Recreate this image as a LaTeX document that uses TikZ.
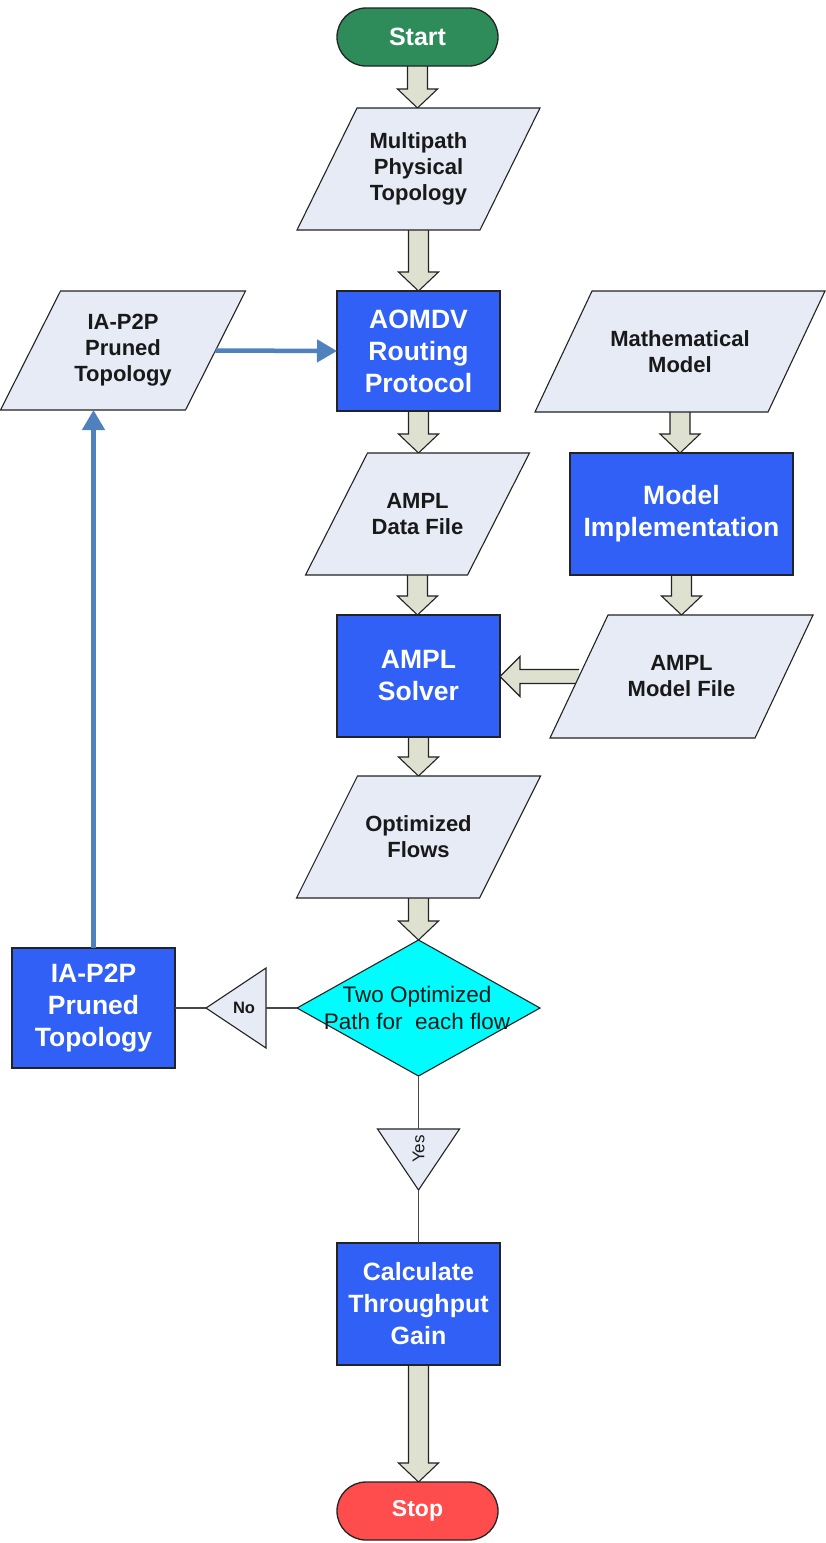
\documentclass[tikz,border=0pt]{standalone}
\usepackage{fontspec}
\setmainfont{Liberation Sans}
\usetikzlibrary{shapes.geometric,arrows.meta,calc,backgrounds}

\definecolor{startgreen}{RGB}{46,139,90}
\definecolor{procblue}{RGB}{48,96,245}
\definecolor{datafill}{RGB}{230,235,246}
\definecolor{arrowfill}{RGB}{222,225,208}
\definecolor{decfill}{RGB}{0,252,252}
\definecolor{stopred}{RGB}{255,77,77}
\definecolor{linkblue}{RGB}{79,129,189}
\definecolor{edge}{RGB}{35,35,35}
\definecolor{linkgray}{RGB}{70,70,70}
\definecolor{darktext}{RGB}{25,25,25}

% hollow block arrow pointing down, from #1 to #2
\newcommand\downblock[2]{%
  \draw[blockarrow] let \p1=(#1), \p2=(#2) in
    (\x1-10pt,\y1) -- (\x1-10pt,\y2+19pt) -- (\x1-20pt,\y2+19pt) -- (\x1,\y2)
    -- (\x1+20pt,\y2+19pt) -- (\x1+10pt,\y2+19pt) -- (\x1+10pt,\y1);}
% hollow block arrow pointing left, from #1 to #2
\newcommand\leftblock[2]{%
  \draw[blockarrow] let \p1=(#1), \p2=(#2) in
    (\x1,\y1+7pt) -- (\x2+20pt,\y1+7pt) -- (\x2+20pt,\y1+20pt) -- (\x2,\y1)
    -- (\x2+20pt,\y1-20pt) -- (\x2+20pt,\y1-7pt) -- (\x1,\y1-7pt);}
% slanted data frame around node #1, horizontal offset #2 between top and bottom
\newcommand\dataframe[2]{%
  \draw[dataedge] ([xshift=#2/2]#1.north west) -- ([xshift=#2/2]#1.north east)
    -- ([xshift=-#2/2]#1.south east) -- ([xshift=-#2/2]#1.south west) -- cycle;}

\begin{document}
\begin{tikzpicture}[x=1pt,y=-1pt,
  every node/.style={inner sep=0pt,outer sep=0pt},
  terminal/.style={draw=edge,line width=1.3pt,rounded corners=29pt,
    minimum width=161pt,minimum height=58pt,text=white,
    font=\bfseries\fontsize{25}{28}\selectfont},
  process/.style={draw=edge,fill=procblue,line width=1.3pt,
    minimum width=163pt,minimum height=121pt,text=white,align=center,
    font=\bfseries\fontsize{26.5}{32}\selectfont},
  datanode/.style={align=center,text=darktext,
    font=\bfseries\fontsize{22}{26}\selectfont},
  dataedge/.style={draw=edge,fill=datafill,line width=1.1pt,line join=miter},
  decision/.style={diamond,draw=edge,fill=decfill,line width=1.1pt,
    minimum width=243pt,minimum height=136pt},
  dectext/.style={align=center,text=darktext,font=\fontsize{22.5}{27}\selectfont},
  marker/.style={draw=edge,fill=datafill,line width=1.1pt,line join=miter},
  blockarrow/.style={draw=edge,fill=arrowfill,line width=1.1pt,line join=miter},
  link/.style={draw=linkgray,line width=1.9pt},
  bluelink/.style={draw=linkblue,line width=4.5pt,
    -{Triangle[length=20pt,width=22pt]}}]

\useasboundingbox (0,0) rectangle (826,1543);

% main column
\node[terminal,fill=startgreen] (start) at (417.5,37) {Start};
\node[datanode,minimum width=183pt,minimum height=122pt] (phys) at (418.5,169)
  {Multipath\\Physical\\Topology};
\node[process,minimum height=120pt] (aomdv) at (418.5,351)
  {AOMDV\\Routing\\Protocol};
\node[datanode,minimum width=162pt,minimum height=122pt] (data) at (417.5,514)
  {AMPL\\Data File};
\node[process,minimum height=122pt] (solver) at (418.5,676)
  {AMPL\\Solver};
\node[datanode,minimum width=183pt,minimum height=122pt] (flows) at (418.5,837)
  {Optimized\\Flows};
\node[decision] (dec) at (418.5,1008) {};
\node[dectext] (dectxt) at (417,1008) {Two Optimized\\Path for\ \ each flow};
\node[process,minimum height=122pt,font=\bfseries\fontsize{25}{32}\selectfont]
  (calc) at (418.5,1304) {Calculate\\Throughput\\Gain};
\node[terminal,fill=stopred,font=\bfseries\fontsize{23}{26}\selectfont]
  (stop) at (417.5,1511) {Stop};

% right column
\node[datanode,minimum width=233pt,minimum height=121pt] (math) at (680,351.5)
  {Mathematical\\Model};
\node[process,minimum width=223pt,minimum height=122pt] (impl) at (681.5,514)
  {Model\\Implementation};
\node[datanode,minimum width=205pt,minimum height=123pt] (mfile) at (681.5,676.5)
  {AMPL\\Model File};

% left column
\node[datanode,minimum width=185pt,minimum height=119pt] (iatop) at (123,350.5)
  {IA-P2P\\Pruned\\Topology};
\node[process,minimum height=120pt] (iabox) at (93.5,1008)
  {IA-P2P\\Pruned\\Topology};

% "No" marker
\coordinate (noTip) at (206,1008);
\coordinate (noBase) at (266,1008);
\draw[marker] (noTip) -- (266,968) -- (266,1048) -- cycle;
\node[font=\bfseries\fontsize{16.5}{18}\selectfont,text=darktext] (notxt) at (244,1008) {No};

% "Yes" marker
\coordinate (yesTop) at (418.5,1129);
\coordinate (yesTip) at (418.5,1190);
\draw[marker] (377.5,1129) -- (459.5,1129) -- (yesTip) -- cycle;
\node[rotate=90,font=\fontsize{17}{19}\selectfont,text=darktext] (yestxt) at (418.5,1149) {Yes};

% plain connectors
\draw[link] (dec.west) -- (noBase);
\draw[link] (noTip) -- (iabox.east);
\draw[link] (dec.south) -- (yesTop);
\draw[link] (yesTip) -- (calc.north);

% feedback connectors
\draw[bluelink] (iabox.north) -- (iabox.north |- iatop.south);
\draw[bluelink] (iatop.east) -- (aomdv.west);

% block arrows and data frames, behind the labels
\begin{pgfonlayer}{background}
\fill[white] (0,0) rectangle (826,1543);
\downblock{start.south}{phys.north}
\downblock{phys.south}{aomdv.north}
\downblock{aomdv.south}{data.north}
\downblock{data.south}{solver.north}
\downblock{solver.south}{flows.north}
\downblock{flows.south}{dec.north}
\downblock{calc.south}{stop.north}
\downblock{math.south}{impl.north}
\downblock{impl.south}{mfile.north}
\leftblock{mfile.west}{solver.east}
\dataframe{phys}{60pt}
\dataframe{data}{62pt}
\dataframe{flows}{61pt}
\dataframe{math}{57pt}
\dataframe{mfile}{58pt}
\dataframe{iatop}{60pt}
\end{pgfonlayer}
\end{tikzpicture}
\end{document}
